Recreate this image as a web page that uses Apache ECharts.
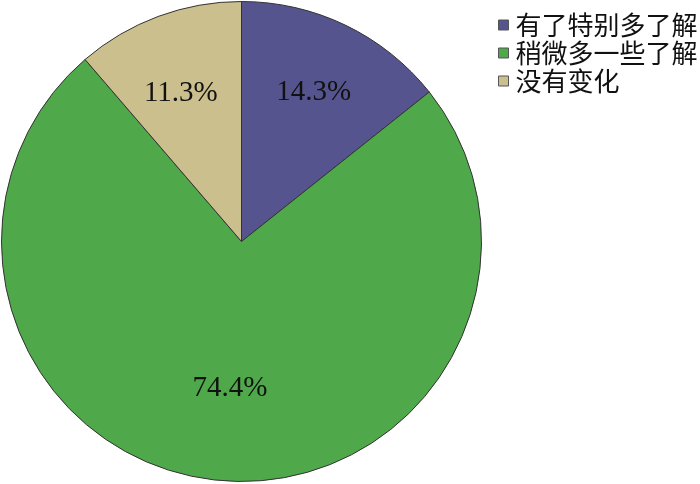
<!DOCTYPE html>
<html>
<head>
<meta charset="utf-8">
<title>pie</title>
<script src="https://cdn.jsdelivr.net/npm/echarts@6/dist/echarts.min.js"></script>
<style>
html,body{margin:0;padding:0;background:#fff;}
#main{width:700px;height:484px;}
</style>
</head>
<body>
<div id="main"></div>
<script>
var categories = ['有了特别多了解', '稍微多一些了解', '没有变化'];
var values = [14.3, 74.4, 11.3];
var colors = ['#55548f', '#4fa94b', '#cbbf8e'];

var pieData = [];
var labelData = [];
for (var i = 0; i < categories.length; i++) {
	pieData.push({ name: categories[i], value: values[i], itemStyle: { color: colors[i] } });
	var item = { name: categories[i], value: values[i] };
	// 标签微调
	if (i == 1) {
		item.label = { offset: [4, -18] };
	}
	if (i == 2) {
		item.label = { offset: [-3, 8] };
	}
	labelData.push(item);
}

var chart = echarts.init(document.getElementById('main'));
chart.setOption({
	animation: false,
	legend: {
		orient: 'vertical',
		left: 498,
		top: 12,
		padding: 0,
		itemWidth: 10,
		itemHeight: 10,
		itemGap: 2,
		icon: 'rect',
		data: categories,
		itemStyle: { borderColor: '#555', borderWidth: 1 },
		textStyle: {
			fontFamily: 'Noto Sans CJK SC',
			fontSize: 26,
			lineHeight: 26,
			color: '#111',
			padding: [0, 0, 0, 2]
		}
	},
	series: [
		{
			type: 'pie',
			center: [241.5, 241.5],
			radius: 240,
			startAngle: 90,
			clockwise: true,
			silent: true,
			label: { show: false },
			labelLine: { show: false },
			itemStyle: { borderColor: '#333', borderWidth: 1 },
			data: pieData
		},
		{
			// 只用来放百分比标签
			type: 'pie',
			center: [241.5, 241.5],
			radius: 326,
			startAngle: 90,
			clockwise: true,
			silent: true,
			legendHoverLink: false,
			itemStyle: { color: 'rgba(0,0,0,0)' },
			label: {
				show: true,
				position: 'inside',
				formatter: function (p) { return p.value.toFixed(1) + '%'; },
				fontFamily: 'Liberation Serif',
				fontSize: 29,
				color: '#111'
			},
			labelLine: { show: false },
			data: labelData
		}
	]
});
</script>
</body>
</html>
